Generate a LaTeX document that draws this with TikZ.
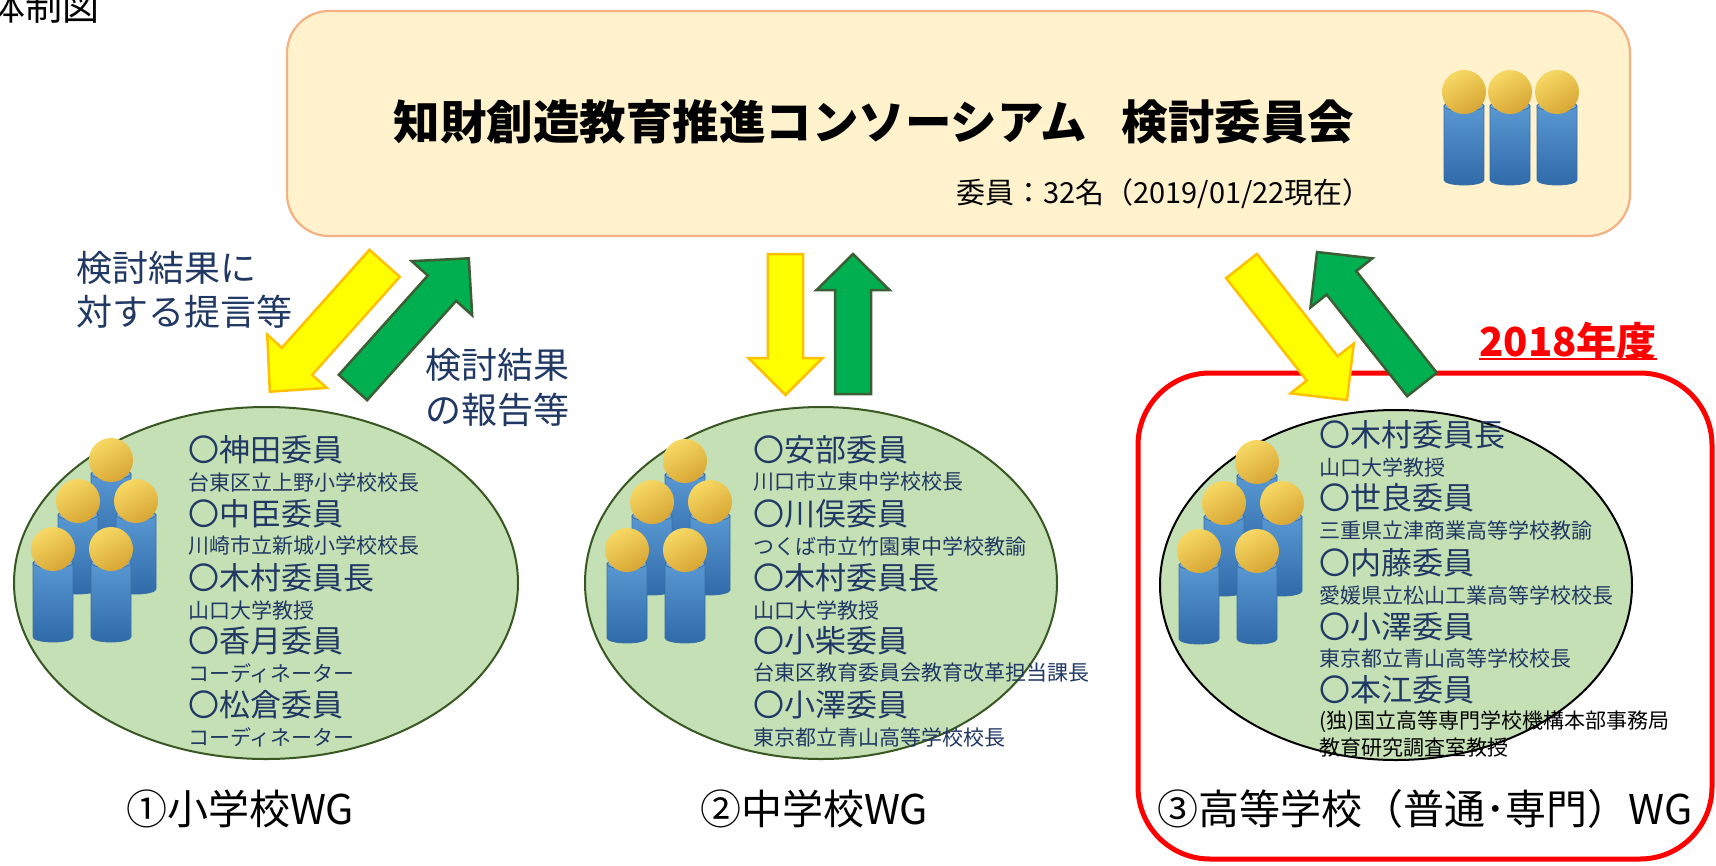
\documentclass[tikz,border=0pt]{standalone}
\usepackage{fontspec}
\setmainfont{Noto Sans CJK JP}
\usetikzlibrary{calc,shapes.geometric}

\definecolor{navy}{HTML}{203864}
\definecolor{boxfill}{HTML}{FFF2CC}
\definecolor{boxline}{HTML}{F4B183}
\definecolor{wgfill}{HTML}{C5E0B4}
\definecolor{wgline}{HTML}{385723}
\definecolor{arrY}{HTML}{FFFF00}
\definecolor{arrYline}{HTML}{FFC000}
\definecolor{arrG}{HTML}{00B050}
\definecolor{arrGline}{HTML}{3B5E34}
\definecolor{bodyTop}{HTML}{5B9BD5}
\definecolor{bodyBot}{HTML}{2F6AA9}
\definecolor{bodyLine}{HTML}{3A6EA5}
\definecolor{headA}{HTML}{F7D864}
\definecolor{headB}{HTML}{D8A634}
\definecolor{framered}{HTML}{FF0000}

\newcommand\fs[1]{\fontsize{#1pt}{#1pt}\selectfont}

% block arrow: #1 style, #2 tail centre, #3 tip, #4 half shaft width,
% #5 half head width, #6 head length
\newcommand\blockarrow[6]{%
  \coordinate (ba-t) at (#2);
  \coordinate (ba-p) at (#3);
  \coordinate (ba-h) at ($(ba-p)!#6!(ba-t)$);
  \draw[#1] ($(ba-t)!#4!90:(ba-p)$) -- ($(ba-h)!#4!90:(ba-p)$)
    -- ($(ba-h)!#5!90:(ba-p)$) -- (ba-p) -- ($(ba-h)!#5!-90:(ba-p)$)
    -- ($(ba-h)!#4!-90:(ba-p)$) -- ($(ba-t)!#4!-90:(ba-p)$) -- cycle;}

\tikzset{
  topbox/.style={draw=boxline, fill=boxfill, line width=2.2pt, rounded corners=42pt},
  wgshape/.style={ellipse, fill=wgfill, draw=wgline, line width=2pt, inner sep=0pt},
  yearframe/.style={draw=framered, line width=5pt, rounded corners=72pt},
  downarrow/.style={fill=arrY, draw=arrYline, line width=2.5pt, line join=miter},
  uparrow/.style={fill=arrG, draw=arrGline, line width=2.5pt, line join=miter},
  memname/.style={anchor=west, text=navy, font=\fs{31}, inner sep=0pt},
  memrole/.style={anchor=west, text=navy, font=\fs{21}, inner sep=0pt},
  armnote/.style={anchor=west, text=navy, font=\fs{36}, inner sep=0pt},
  wglabel/.style={text=black, font=\fs{41}, inner sep=0pt},
  person/.pic={
    \shade[top color=bodyTop, bottom color=bodyBot, draw=bodyLine, line width=0.8pt]
      (-20,14) -- (-20,88) arc[start angle=180, end angle=0, x radius=20, y radius=5]
      -- (20,14) arc[start angle=0, end angle=-180, x radius=20, y radius=5] -- cycle;
    \draw[bodyLine, line width=0.8pt, fill=bodyTop!85!white] (0,14) ellipse[x radius=20, y radius=5];
    \shade[top color=headA, bottom color=headB, shading angle=30] (0,0) circle[radius=22];
  },
  crowd/.pic={
    \pic at (0,0) {person};
    \pic at (-33,41) {person};
    \pic at (25,41) {person};
    \pic at (-58,89) {person};
    \pic at (0,89) {person};
  }
}

\begin{document}
\begin{tikzpicture}[x=1pt, y=-1pt]
\useasboundingbox (0,0) rectangle (1716,865);
\clip (0,0) rectangle (1716,865);

% heading of the page
\node[font=\fs{37}, inner sep=0pt] (heading) at (44,6) {体制図};

% committee box
\node[topbox, minimum width=1343pt, minimum height=225pt] (committee) at (958.5,123.5) {};
\node[font=\bfseries\fs{46.5}, inner sep=0pt] (ctitle) at (874,122) {知財創造教育推進コンソーシアム\hspace{0.75em}検討委員会};
\node[font=\fs{29}, anchor=east, inner sep=0pt] (cmembers) at (1372,194) {委員：32名（2019/01/22現在）};
\pic at (1464,92) {person};
\pic at (1510,92) {person};
\pic at (1557,92) {person};

% 2018 frame
\node[yearframe, minimum width=574pt, minimum height=486pt] (frame2018) at (1425,616) {};
\node[text=framered, font=\bfseries\fs{40}, inner sep=0pt] (year) at (1568,341) {2018年度};
\draw[framered, line width=2.2pt] ($(year.south west)+(0,-1)$) -- ($(year.south east)+(0,-1)$);

% working group ellipses
\node[wgshape, minimum width=504pt, minimum height=352pt] (wg1) at (266,583) {};
\node[wgshape, minimum width=472pt, minimum height=352pt] (wg2) at (821,583) {};
\node[wgshape, draw=black, minimum width=472pt, minimum height=350pt] (wg3) at (1396,585) {};

\pic at (111,460) {crowd};
\pic at (685,461) {crowd};
\pic at (1257,462) {crowd};

% members, group 1
\node[memname] (a1) at (188,450) {〇神田委員};
\node[memrole] (a2) at (188,482) {台東区立上野小学校校長};
\node[memname] (a3) at (188,514) {〇中臣委員};
\node[memrole] (a4) at (188,546) {川崎市立新城小学校校長};
\node[memname] (a5) at (188,578) {〇木村委員長};
\node[memrole] (a6) at (188,610) {山口大学教授};
\node[memname] (a7) at (188,641) {〇香月委員};
\node[memrole] (a8) at (188,673) {コーディネーター};
\node[memname] (a9) at (188,705) {〇松倉委員};
\node[memrole] (a10) at (188,737) {コーディネーター};

% members, group 2
\node[memname] (b1) at (753,450) {〇安部委員};
\node[memrole] (b2) at (753,482) {川口市立東中学校校長};
\node[memname] (b3) at (753,514) {〇川俣委員};
\node[memrole] (b4) at (753,546) {つくば市立竹園東中学校教諭};
\node[memname] (b5) at (753,578) {〇木村委員長};
\node[memrole] (b6) at (753,610) {山口大学教授};
\node[memname] (b7) at (753,641) {〇小柴委員};
\node[memrole] (b8) at (753,673) {台東区教育委員会教育改革担当課長};
\node[memname] (b9) at (753,705) {〇小澤委員};
\node[memrole] (b10) at (753,737) {東京都立青山高等学校校長};

% members, group 3
\node[memname] (c1) at (1319,435) {〇木村委員長};
\node[memrole] (c2) at (1319,467) {山口大学教授};
\node[memname] (c3) at (1319,498) {〇世良委員};
\node[memrole] (c4) at (1319,530) {三重県立津商業高等学校教諭};
\node[memname] (c5) at (1319,563) {〇内藤委員};
\node[memrole] (c6) at (1319,595) {愛媛県立松山工業高等学校校長};
\node[memname] (c7) at (1319,627) {〇小澤委員};
\node[memrole] (c8) at (1319,658) {東京都立青山高等学校校長};
\node[memname] (c9) at (1319,690) {〇本江委員};
\node[memrole, text=black] (c10) at (1319,722) {(独)国立高等専門学校機構本部事務局};
\node[memrole, text=black] (c11) at (1319,748) {教育研究調査室教授};

% group labels
\node[wglabel] (l1) at (240,809) {①小学校WG};
\node[wglabel] (l2) at (814,809) {②中学校WG};
\node[wglabel] (l3) at (1425,809) {③高等学校（普通･専門）WG};

% arrow notes
\node[armnote] (n1) at (76,268) {検討結果に};
\node[armnote] (n2) at (76,312) {対する提言等};
\node[armnote] (n3) at (425,365) {検討結果};
\node[armnote] (n4) at (425,410) {の報告等};

% arrows between committee and working groups
\blockarrow{downarrow}{384.6,263.3}{269.8,391.7}{20.3pt}{39.9pt}{40.8pt}
\blockarrow{uparrow}{353,387.5}{468.8,258.3}{19pt}{40.6pt}{40.2pt}
\blockarrow{downarrow}{785.5,254}{785.5,395}{17.7pt}{37pt}{37pt}
\blockarrow{uparrow}{853,394}{853,254}{18pt}{36.5pt}{36pt}
\blockarrow{downarrow}{1241.5,266}{1347,400}{19.6pt}{40.3pt}{40.2pt}
\blockarrow{uparrow}{1422,384.5}{1317,252}{18.9pt}{39.5pt}{39.4pt}
\end{tikzpicture}
\end{document}
